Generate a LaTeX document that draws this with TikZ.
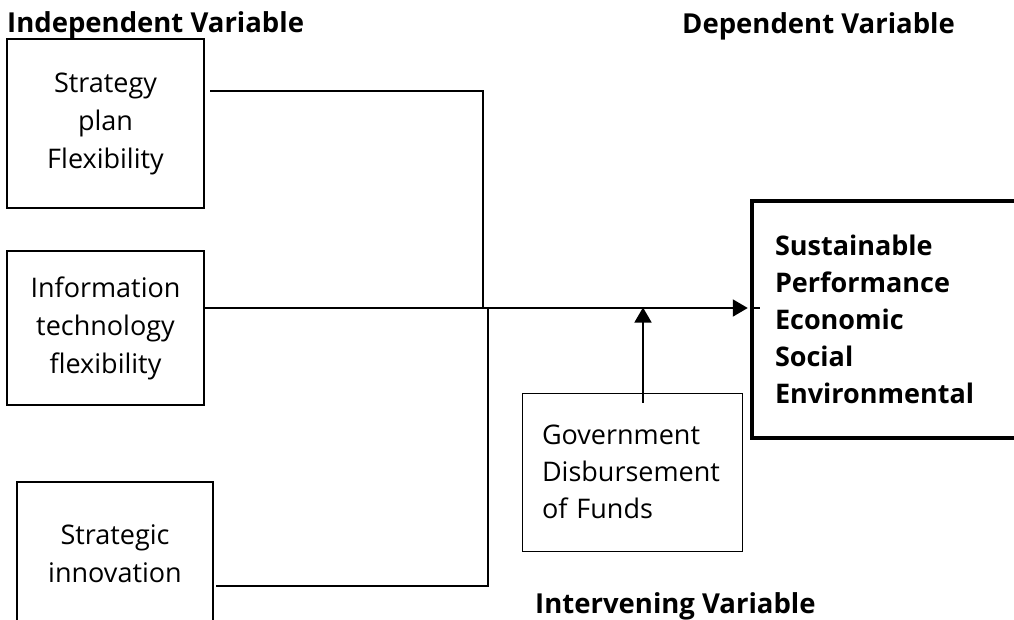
\documentclass[tikz,border=0pt]{standalone}
\usepackage{fontspec}
\setmainfont{Open Sans}
\usetikzlibrary{arrows.meta}

\begin{document}
\begin{tikzpicture}[x=1pt,y=-1pt,
  varbox/.style={draw, line width=2pt, align=center, inner sep=0pt, font=\fontsize{27}{38}\selectfont},
  heading/.style={anchor=base west, inner sep=0pt, font=\fontsize{27.5}{30}\selectfont\bfseries},
  link/.style={line width=2pt},
  tip/.style={-{Triangle[length=15pt,width=17pt]}}]
  \clip (0,0) rectangle (1014,619);
  \node[heading] (indep) at (7,32) {Independent Variable};
  \node[heading] (dep) at (682,33) {Dependent Variable};
  \node[heading] (interv) at (535,613) {Intervening Variable};

  \node[varbox, minimum width=197, minimum height=169] (plan) at (105.5,123.5) {Strategy\\plan\\Flexibility};
  \node[varbox, minimum width=197, minimum height=154] (tech) at (105.5,328) {Information\\technology\\flexibility};
  \node[varbox, minimum width=196, minimum height=144] (inno) at (115,554) {Strategic\\innovation};
  \node[draw, line width=1pt, inner xsep=20pt, inner ysep=0pt, text width=180, align=left,
        minimum height=158, font=\fontsize{27}{37}\selectfont] (gov) at (632,472) {Government\\Disbursement\\of Funds};
  \node[draw, line width=4.5pt, inner xsep=23pt, inner ysep=0pt, text width=232, align=left,
        minimum height=237, font=\fontsize{27}{37}\selectfont\bfseries] (perf) at (891,319.5)
        {Sustainable\\Performance\\Economic\\Social\\Environmental};

  \coordinate (jn1) at (483,308);
  \coordinate (jn2) at (488,308);
  % inputs to the main line
  \draw[link] ([shift={(5,-32.5)}]plan.east) -| (jn1);
  \draw[link] ([shift={(2,32)}]inno.east) -| (jn2);
  \draw[link,tip] (tech.east |- jn1) -- ([xshift=-2pt]perf.west |- jn1);
  \draw[link] (perf.west |- jn1) -- ++(10,0);
  % intervening
  \draw[line width=1.5pt,tip] ([xshift=11pt,yshift=-10pt]gov.north) -- ++(0,-95);
\end{tikzpicture}
\end{document}
